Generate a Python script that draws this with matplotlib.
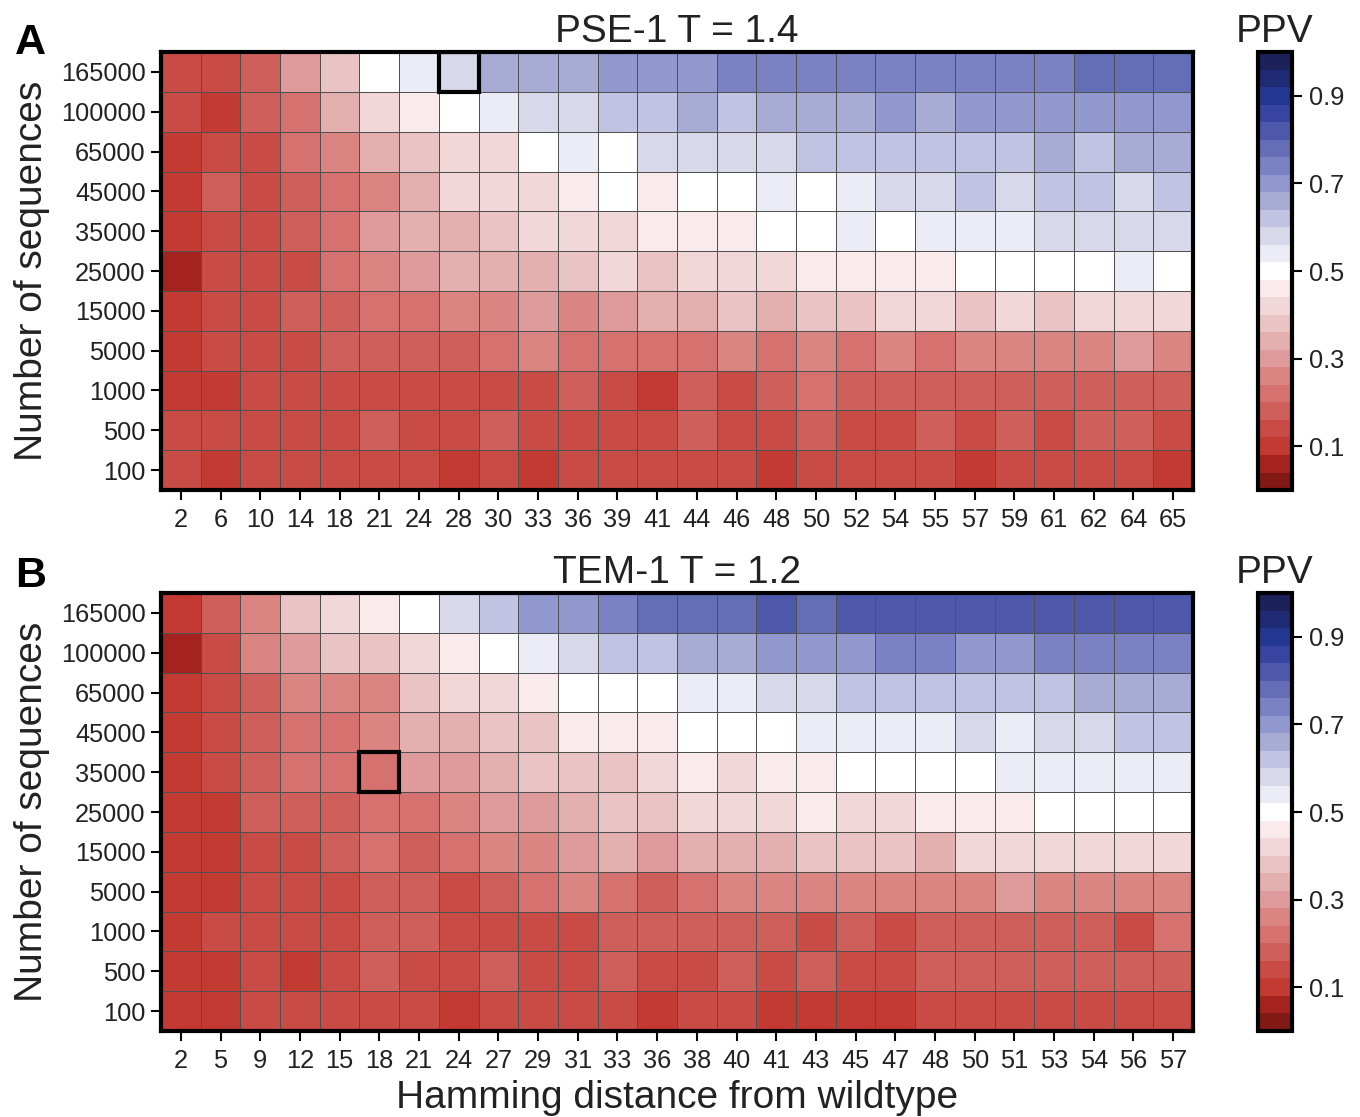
import numpy as np
import matplotlib
matplotlib.use("Agg")
import matplotlib.pyplot as plt
from matplotlib.colors import ListedColormap, Normalize
from matplotlib.patches import Rectangle

plt.rcParams['font.family'] = ['Liberation Sans', 'DejaVu Sans']

n_seq = ["165000", "100000", "65000", "45000", "35000", "25000", "15000",
         "5000", "1000", "500", "100"]
ham_A = [2, 6, 10, 14, 18, 21, 24, 28, 30, 33, 36, 39, 41, 44, 46, 48, 50, 52,
         54, 55, 57, 59, 61, 62, 64, 65]
ham_B = [2, 5, 9, 12, 15, 18, 21, 24, 27, 29, 31, 33, 36, 38, 40, 41, 43, 45,
         47, 48, 50, 51, 53, 54, 56, 57]

# PPV values (rows: number of sequences, top to bottom)
ppv_A = [
    [0.14, 0.14, 0.18, 0.30, 0.38, 0.50, 0.54, 0.58, 0.66, 0.66, 0.66, 0.70, 0.70, 0.70, 0.74, 0.74, 0.74, 0.74, 0.74, 0.74, 0.74, 0.74, 0.74, 0.78, 0.78, 0.78],
    [0.14, 0.10, 0.18, 0.22, 0.34, 0.42, 0.46, 0.50, 0.54, 0.58, 0.58, 0.62, 0.62, 0.66, 0.62, 0.66, 0.66, 0.66, 0.70, 0.66, 0.70, 0.70, 0.70, 0.70, 0.70, 0.70],
    [0.10, 0.14, 0.14, 0.22, 0.26, 0.34, 0.38, 0.42, 0.42, 0.50, 0.54, 0.50, 0.58, 0.58, 0.58, 0.58, 0.62, 0.62, 0.62, 0.62, 0.62, 0.62, 0.66, 0.62, 0.66, 0.66],
    [0.10, 0.18, 0.14, 0.18, 0.22, 0.26, 0.34, 0.42, 0.42, 0.42, 0.46, 0.50, 0.46, 0.50, 0.50, 0.54, 0.50, 0.54, 0.58, 0.58, 0.62, 0.58, 0.62, 0.62, 0.58, 0.62],
    [0.10, 0.14, 0.14, 0.18, 0.22, 0.30, 0.34, 0.34, 0.38, 0.42, 0.42, 0.42, 0.46, 0.46, 0.46, 0.50, 0.50, 0.54, 0.50, 0.54, 0.54, 0.54, 0.58, 0.58, 0.58, 0.58],
    [0.06, 0.14, 0.14, 0.14, 0.22, 0.26, 0.30, 0.34, 0.34, 0.34, 0.38, 0.42, 0.38, 0.42, 0.42, 0.42, 0.46, 0.46, 0.46, 0.46, 0.50, 0.50, 0.50, 0.50, 0.54, 0.50],
    [0.10, 0.14, 0.14, 0.18, 0.18, 0.22, 0.22, 0.26, 0.26, 0.30, 0.26, 0.30, 0.34, 0.34, 0.38, 0.34, 0.38, 0.38, 0.42, 0.42, 0.38, 0.42, 0.38, 0.42, 0.42, 0.42],
    [0.10, 0.14, 0.14, 0.14, 0.18, 0.18, 0.18, 0.18, 0.22, 0.26, 0.22, 0.22, 0.22, 0.22, 0.26, 0.22, 0.26, 0.22, 0.26, 0.22, 0.26, 0.26, 0.26, 0.26, 0.30, 0.26],
    [0.10, 0.10, 0.14, 0.14, 0.14, 0.14, 0.14, 0.14, 0.14, 0.14, 0.18, 0.14, 0.10, 0.18, 0.14, 0.18, 0.22, 0.18, 0.18, 0.18, 0.18, 0.18, 0.18, 0.18, 0.18, 0.18],
    [0.14, 0.14, 0.14, 0.14, 0.14, 0.18, 0.14, 0.14, 0.18, 0.14, 0.14, 0.14, 0.14, 0.18, 0.14, 0.14, 0.18, 0.14, 0.14, 0.18, 0.14, 0.18, 0.14, 0.18, 0.18, 0.14],
    [0.14, 0.10, 0.14, 0.14, 0.14, 0.14, 0.14, 0.10, 0.14, 0.10, 0.14, 0.14, 0.14, 0.14, 0.14, 0.10, 0.14, 0.14, 0.14, 0.14, 0.10, 0.14, 0.14, 0.14, 0.14, 0.10],
]
ppv_B = [
    [0.10, 0.18, 0.26, 0.38, 0.42, 0.46, 0.50, 0.58, 0.62, 0.70, 0.70, 0.74, 0.78, 0.78, 0.78, 0.82, 0.78, 0.82, 0.82, 0.82, 0.82, 0.82, 0.82, 0.82, 0.82, 0.82],
    [0.06, 0.14, 0.26, 0.30, 0.38, 0.38, 0.42, 0.46, 0.50, 0.54, 0.58, 0.62, 0.62, 0.66, 0.66, 0.70, 0.70, 0.70, 0.74, 0.74, 0.70, 0.70, 0.74, 0.74, 0.74, 0.74],
    [0.10, 0.14, 0.18, 0.26, 0.26, 0.26, 0.38, 0.42, 0.42, 0.46, 0.50, 0.50, 0.50, 0.54, 0.54, 0.58, 0.58, 0.62, 0.62, 0.62, 0.62, 0.62, 0.62, 0.66, 0.66, 0.66],
    [0.10, 0.14, 0.18, 0.22, 0.22, 0.26, 0.34, 0.34, 0.38, 0.38, 0.46, 0.46, 0.46, 0.50, 0.50, 0.50, 0.54, 0.54, 0.54, 0.54, 0.58, 0.54, 0.58, 0.58, 0.62, 0.62],
    [0.10, 0.14, 0.18, 0.22, 0.22, 0.22, 0.30, 0.30, 0.34, 0.38, 0.38, 0.38, 0.42, 0.46, 0.42, 0.46, 0.46, 0.50, 0.50, 0.50, 0.50, 0.54, 0.54, 0.54, 0.54, 0.54],
    [0.10, 0.10, 0.18, 0.18, 0.18, 0.22, 0.22, 0.26, 0.30, 0.30, 0.34, 0.38, 0.38, 0.42, 0.42, 0.42, 0.46, 0.42, 0.42, 0.46, 0.46, 0.46, 0.50, 0.50, 0.50, 0.50],
    [0.10, 0.10, 0.14, 0.14, 0.18, 0.22, 0.18, 0.22, 0.26, 0.26, 0.30, 0.34, 0.30, 0.34, 0.34, 0.34, 0.38, 0.38, 0.38, 0.34, 0.42, 0.42, 0.42, 0.42, 0.42, 0.42],
    [0.10, 0.10, 0.14, 0.14, 0.14, 0.18, 0.18, 0.14, 0.18, 0.22, 0.26, 0.22, 0.18, 0.22, 0.26, 0.26, 0.26, 0.26, 0.26, 0.26, 0.26, 0.30, 0.26, 0.26, 0.26, 0.26],
    [0.10, 0.14, 0.14, 0.14, 0.14, 0.18, 0.18, 0.14, 0.14, 0.14, 0.14, 0.18, 0.18, 0.18, 0.18, 0.18, 0.14, 0.18, 0.14, 0.18, 0.18, 0.18, 0.18, 0.18, 0.14, 0.22],
    [0.10, 0.10, 0.14, 0.10, 0.14, 0.18, 0.14, 0.14, 0.18, 0.14, 0.14, 0.18, 0.14, 0.14, 0.18, 0.14, 0.18, 0.14, 0.14, 0.18, 0.18, 0.18, 0.18, 0.18, 0.18, 0.18],
    [0.10, 0.10, 0.14, 0.14, 0.14, 0.14, 0.14, 0.10, 0.14, 0.14, 0.14, 0.14, 0.10, 0.14, 0.14, 0.10, 0.10, 0.10, 0.10, 0.14, 0.14, 0.14, 0.14, 0.14, 0.14, 0.14],
]
titles = ["PSE-1 T = 1.4", "TEM-1 T = 1.2"]
panel_letters = ["A", "B"]
highlight_A = ("165000", 28)
highlight_B = ("35000", 18)

colors = [
    (130, 25, 20), (165, 35, 30), (195, 58, 50), (200, 75, 70), (207, 95, 90),
    (213, 113, 110), (218, 133, 130), (223, 155, 155), (228, 175, 175),
    (234, 196, 196), (242, 215, 217), (249, 235, 235), (255, 255, 255),
    (235, 236, 245), (215, 217, 235), (192, 195, 225), (168, 172, 213),
    (145, 152, 205), (123, 130, 195), (100, 110, 182), (78, 88, 170),
    (55, 68, 160), (35, 55, 145), (30, 42, 115), (28, 33, 90),
]
cmap = ListedColormap([tuple(c / 255 for c in col) for col in colors])
norm = Normalize(vmin=0, vmax=1)

fig = plt.figure(figsize=(13.6, 11.17), dpi=100)

panels = [
    (ppv_A, ham_A, highlight_A, 0.5613, 0.9517),
    (ppv_B, ham_B, highlight_B, 0.0770, 0.4745),
]
TXT = '#222222'
for i, (ppv, ham, hl, bottom, letter_y) in enumerate(panels):
    ax = fig.add_axes([0.1184, bottom, 0.7588, 0.3921])
    data = np.array(ppv)
    nrow, ncol = data.shape
    mesh = ax.pcolormesh(np.arange(ncol + 1), np.arange(nrow + 1), data,
                         cmap=cmap, norm=norm, edgecolors='#505050',
                         linewidth=0.6)
    ax.set_xlim(0, ncol)
    ax.set_ylim(nrow, 0)
    ax.set_xticks(np.arange(ncol) + 0.5)
    ax.set_xticklabels([str(h) for h in ham], fontsize=18.3)
    ax.set_yticks(np.arange(nrow) + 0.5)
    ax.set_yticklabels(n_seq, fontsize=18.3)
    ax.tick_params(axis='both', length=7, width=1.5, color='black',
                   labelcolor=TXT)
    ax.tick_params(axis='x', pad=6)
    ax.tick_params(axis='y', pad=4)
    for s in ax.spines.values():
        s.set_linewidth(3)
        s.set_color('black')
    ax.set_title(titles[i], fontsize=28, color=TXT, pad=7)
    ax.set_ylabel("Number of sequences", fontsize=28, color=TXT,
                  labelpad=8)
    if i == 1:
        ax.set_xlabel("Hamming distance from wildtype", fontsize=28,
                      color=TXT, labelpad=5)
    r = n_seq.index(hl[0])
    c = ham.index(hl[1])
    ax.add_patch(Rectangle((c, r), 1, 1, fill=False, edgecolor='black',
                           linewidth=3, zorder=5))
    fig.text(0.011, letter_y, panel_letters[i], fontsize=31,
             fontweight='bold', ha='left', va='baseline')

    cax = fig.add_axes([0.925, bottom, 0.025, 0.3921])
    cb = fig.colorbar(mesh, cax=cax)
    cb.set_ticks([0.1, 0.3, 0.5, 0.7, 0.9])
    cb.ax.tick_params(length=7, width=1.5, labelsize=18.3,
                      labelcolor=TXT, pad=5)
    cb.outline.set_linewidth(3)
    cb.outline.set_edgecolor('black')
    cax.set_title("PPV", fontsize=28, color=TXT, pad=7)

fig.savefig("out.png", dpi=100)
